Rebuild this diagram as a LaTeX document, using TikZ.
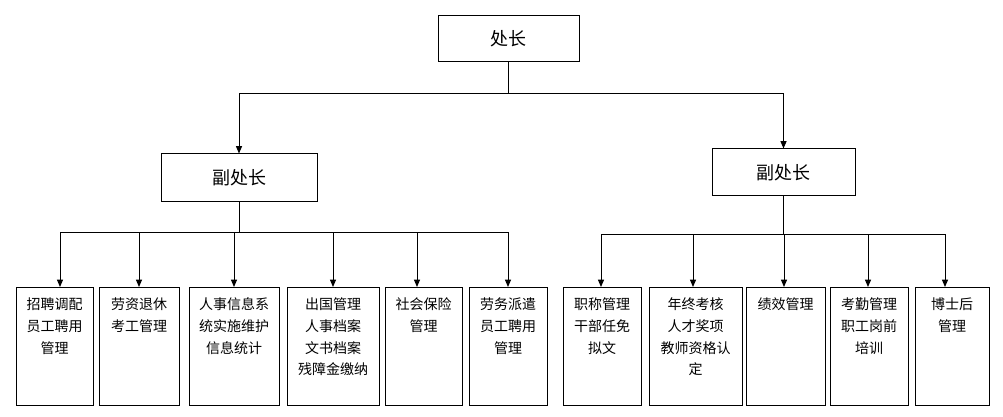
\documentclass[tikz,border=0pt]{standalone}
\usepackage{fontspec}
\setmainfont{Noto Sans CJK SC}
\usetikzlibrary{arrows.meta}
\newcommand{\boxh}{118}

\begin{document}
\begin{tikzpicture}[x=0.75pt,y=-0.75pt,line width=0.75pt,
    arr/.style={-{Triangle[width=4.5pt,length=5.5pt]}}]
      \useasboundingbox (0,0) rectangle (1003,417);
      % head and deputies
      \node (top) at (508.5,39) [draw, minimum width=141*0.75pt, minimum height=46*0.75pt, font=\fontsize{13.5pt}{16pt}\selectfont] {处长};
      \node (vp1) at (239,178) [draw, minimum width=156*0.75pt, minimum height=48*0.75pt, font=\fontsize{13.5pt}{16pt}\selectfont] {副处长};
      \node (vp2) at (783.5,172.5) [draw, minimum width=143*0.75pt, minimum height=47*0.75pt, font=\fontsize{13.5pt}{16pt}\selectfont] {副处长};
      \coordinate (bus1) at (0,94);
      \coordinate (bus2) at (0,232);
      \coordinate (bus3) at (0,234);
      \draw[arr] (top.south) -- (top.south |- bus1) -| (vp1.north);
      \draw[arr] (top.south) -- (top.south |- bus1) -| (vp2.north);

      % offices
      \foreach \n/\x/\w/\a/\t in {1/54.5/77/60/{招聘调配\\员工聘用\\管理}, 2/139/80/139/{劳资退休\\考工管理},
        3/234/90/234/{人事信息系\\统实施维护\\信息统计}, 4/333/92/333/{出国管理\\人事档案\\文书档案\\残障金缴纳},
        5/423.5/77/417/{社会保险\\管理}, 6/508/78/508/{劳务派遣\\员工聘用\\管理},
        7/602/78/601/{职称管理\\干部任免\\拟文}, 8/695.5/93/693/{年终考核\\人才奖项\\教师资格认\\定},
        9/785.5/79/784/{绩效管理}, 10/869/78/868/{考勤管理\\职工岗前\\培训}, 11/952/74/945/{博士后\\管理}}
      {
        \node (b\n) at (\x,287) [draw, anchor=north, minimum width=\w*0.75pt, minimum height=\boxh*0.75pt] {};
        \node (t\n) at (b\n.north) [anchor=north, yshift=-4.5pt, align=center, font=\fontsize{10.5pt}{16.3pt}\selectfont] {\t};
        \coordinate (a\n) at (\a,0);
      }
      \foreach \i in {1,...,6}
        \draw[arr] (vp1.south) -- (vp1.south |- bus2) -| (b\i.north -| a\i);
      \foreach \i in {7,...,11}
        \draw[arr] (vp2.south) -- (vp2.south |- bus3) -| (b\i.north -| a\i);
    \end{tikzpicture}
\end{document}
